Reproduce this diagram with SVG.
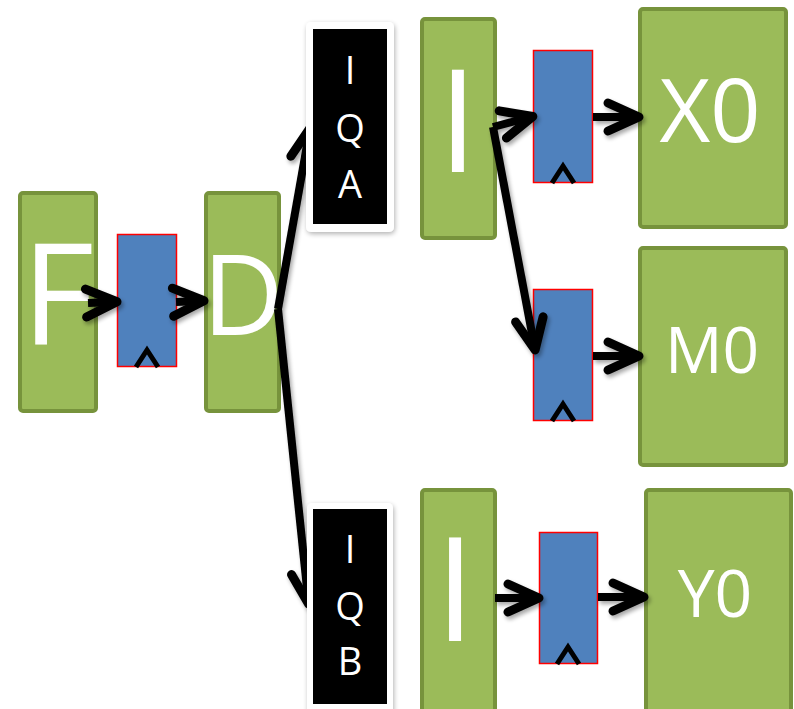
<svg xmlns="http://www.w3.org/2000/svg" width="794" height="709" viewBox="0 0 794 709">
  <defs>
    <style>
      .stage { fill: #9bbb59; stroke: #77933c; stroke-width: 4; }
      .reg { fill: #4f81bd; stroke: #ff0000; stroke-width: 1.5; }
      .clk { fill: none; stroke: #000; stroke-width: 5; stroke-linejoin: miter; }
      .big { fill: #fff; font-family: "Open Sans", "Liberation Sans", sans-serif; text-anchor: middle; }
      .q { fill: #fff; font-family: "Open Sans", "Liberation Sans", sans-serif; font-size: 38px; text-anchor: middle; }
      .wire { fill: none; stroke: #000; stroke-width: 8; stroke-linecap: butt; marker-end: url(#head); }
      .qframe { fill: #fff; filter: url(#boxshade); }
    </style>
    <marker id="head" markerUnits="userSpaceOnUse" orient="auto" viewBox="-40 -25 50 50" refX="-6" refY="0" markerWidth="50" markerHeight="50" overflow="visible">
      <path d="M-31,-14 L0,0 L-31,14" fill="none" stroke="#000" stroke-width="9" stroke-linecap="round" stroke-linejoin="round"/>
    </marker>
    <filter id="shade" filterUnits="userSpaceOnUse" x="0" y="0" width="794" height="709">
      <feGaussianBlur in="SourceAlpha" stdDeviation="2"/>
      <feOffset dx="2" dy="3" result="b"/>
      <feComponentTransfer><feFuncA type="linear" slope="0.35"/></feComponentTransfer>
      <feMerge><feMergeNode/><feMergeNode in="SourceGraphic"/></feMerge>
    </filter>
    <filter id="boxshade" x="-20%" y="-20%" width="140%" height="140%">
      <feGaussianBlur in="SourceAlpha" stdDeviation="2.5"/>
      <feOffset dx="1" dy="2" result="b"/>
      <feComponentTransfer><feFuncA type="linear" slope="0.3"/></feComponentTransfer>
      <feMerge><feMergeNode/><feMergeNode in="SourceGraphic"/></feMerge>
    </filter>
  </defs>

  <rect width="794" height="709" fill="#fff"/>

  <!-- pipeline stages -->
  <g id="F">
    <rect class="stage" x="20" y="193" width="76" height="218" rx="3"/>
    <text class="big" x="58" y="344" font-size="141">F</text>
  </g>
  <g id="regFD">
    <rect class="reg" x="117.5" y="234.5" width="59" height="132"/>
    <polyline class="clk" points="136,367 147,350 158,367"/>
  </g>
  <g id="D">
    <rect class="stage" x="206" y="193" width="73" height="218" rx="3"/>
    <text class="big" x="243" y="335" font-size="112">D</text>
  </g>
  <g id="IA">
    <rect class="stage" x="422" y="19" width="73" height="219" rx="3"/>
    <text class="big" x="458" y="172" font-size="143">I</text>
  </g>
  <g id="regX">
    <rect class="reg" x="533.5" y="50.5" width="59" height="132"/>
    <polyline class="clk" points="552,183 563,166 574,183"/>
  </g>
  <g id="X0">
    <rect class="stage" x="640" y="9" width="146" height="218" rx="3"/>
    <text class="big" x="710" y="142" font-size="88">X0</text>
  </g>
  <g id="regM">
    <rect class="reg" x="533.5" y="289.5" width="59" height="131"/>
    <polyline class="clk" points="552,421 563,404 574,421"/>
  </g>
  <g id="M0">
    <rect class="stage" x="640" y="248" width="146" height="217" rx="3"/>
    <text class="big" x="712" y="373" font-size="64">M0</text>
  </g>
  <g id="IB">
    <rect class="stage" x="422" y="490" width="73" height="225" rx="3"/>
    <text class="big" x="455" y="641" font-size="144">I</text>
  </g>
  <g id="regY">
    <rect class="reg" x="539.5" y="532.5" width="58" height="131"/>
    <polyline class="clk" points="557,664 568,647 579,664"/>
  </g>
  <g id="Y0">
    <rect class="stage" x="646" y="490" width="145" height="225" rx="3"/>
    <text class="big" x="715" y="617" font-size="66">Y0</text>
  </g>

  <!-- connectors -->
  <g id="connectors" filter="url(#shade)">
    <path class="wire" d="M88,303 L111,302"/>
    <path class="wire" d="M176,302 L198,301"/>
    <path class="wire" d="M278,309 L309,134"/>
    <path class="wire" d="M278,309 L308,598"/>
    <path class="wire" d="M493,127 L527,118"/>
    <path class="wire" d="M493,127 L534,344"/>
    <path class="wire" d="M593,117 L633,117"/>
    <path class="wire" d="M593,356 L633,356"/>
    <path class="wire" d="M495,598 L533,598"/>
    <path class="wire" d="M598,597 L638,597"/>
  </g>

  <!-- issue queues -->
  <g id="IQA">
    <rect class="qframe" x="306" y="22" width="88" height="210" rx="5"/>
    <rect x="313" y="29" width="74" height="195" fill="#000"/>
    <text class="q" x="350" y="84">I</text>
    <text class="q" x="350" y="142">Q</text>
    <text class="q" x="350" y="198">A</text>
  </g>
  <g id="IQB">
    <rect class="qframe" x="307" y="503" width="86" height="215" rx="5"/>
    <rect x="313" y="509" width="74" height="195" fill="#000"/>
    <text class="q" x="350" y="563">I</text>
    <text class="q" x="350" y="620">Q</text>
    <text class="q" x="350" y="675">B</text>
  </g>
</svg>
